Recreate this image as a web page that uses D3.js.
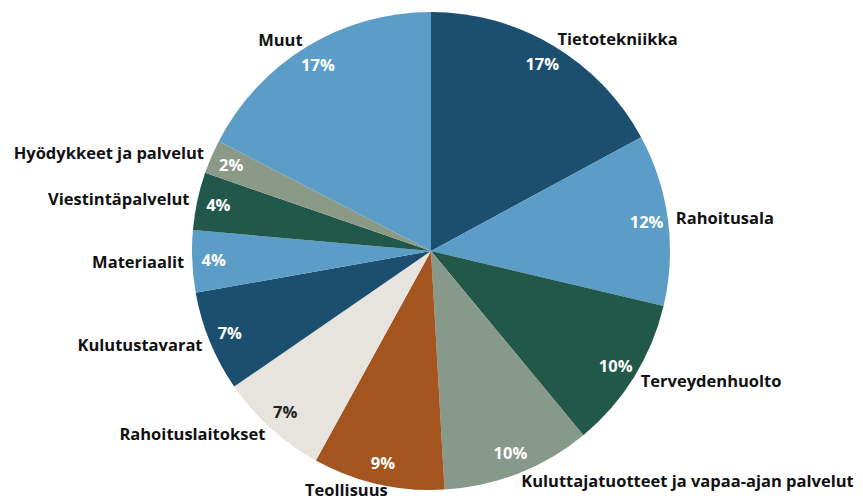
<html>
<head>
<meta charset="utf-8">
<title>Toimialajakauma</title>
<script src="https://d3js.org/d3.v7.min.js"></script>
<style>
  body { margin: 0; background: #fff; }
  text { font-family: "Open Sans", Lato, sans-serif; font-weight: 700; }
</style>
</head>
<body>
<div id="chart"></div>
<script>
var categories = ["Tietotekniikka", "Rahoitusala", "Terveydenhuolto",
  "Kuluttajatuotteet ja vapaa-ajan palvelut", "Teollisuus", "Rahoituslaitokset",
  "Kulutustavarat", "Materiaalit", "Viestintäpalvelut", "Hyödykkeet ja palvelut", "Muut"];
var values = [17.1, 11.6, 10.3, 10.1, 8.9, 7.4, 6.8, 4.2, 3.9, 2.3, 17.4];
var colors = ["#1c4e6f", "#5b9dc7", "#22584a", "#86998a", "#a4541e", "#e7e3dd",
  "#1c4e6f", "#5b9dc7", "#22584a", "#8b9a86", "#5b9dc7"];
var pctColors = ["#fff", "#fff", "#fff", "#fff", "#fff", "#222",
  "#fff", "#fff", "#fff", "#fff", "#fff"];

var width = 863, height = 501;
var cx = 431, cy = 251, R = 239;

var svg = d3.select("#chart").append("svg")
    .attr("width", width)
    .attr("height", height)
  .append("g")
    .attr("transform", "translate(" + cx + "," + cy + ")");

var data = categories.map(function(c, i) { return {name: c, value: values[i], i: i}; });

var pie = d3.pie().sort(null).value(function(d) { return d.value; });
var arcs = pie(data);

var arc = d3.arc().innerRadius(0).outerRadius(R);
var pctArc = d3.arc().innerRadius(R * 0.91).outerRadius(R * 0.91);

svg.selectAll("path.slice").data(arcs).enter().append("path")
    .attr("class", "slice")
    .attr("d", arc)
    .attr("fill", function(d) { return colors[d.data.i]; });

svg.selectAll("text.pct").data(arcs).enter().append("text")
    .attr("class", "pct")
    .attr("transform", function(d) { return "translate(" + pctArc.centroid(d) + ")"; })
    .attr("text-anchor", "middle")
    .attr("dy", "0.35em")
    .style("font-size", "16.5px")
    .attr("fill", function(d) { return pctColors[d.data.i]; })
    .text(function(d) { return Math.round(d.data.value) + "%"; });

var labelR = R + 8;
function mid(d) { return (d.startAngle + d.endAngle) / 2; }
function isBottom(d) { var a = mid(d); return a > Math.PI * 1.05 && a < Math.PI * 1.12; }

svg.selectAll("text.lab").data(arcs).enter().append("text")
    .attr("class", "lab")
    .attr("x", function(d) {
      var x = labelR * Math.sin(mid(d));
      // bottom label sits a little left of its slice, as in the original
      return isBottom(d) ? x - 30 : x;
    })
    .attr("y", function(d) {
      var y = -labelR * Math.cos(mid(d));
      return isBottom(d) ? Math.min(y, cy - 12) : y;
    })
    .attr("dy", "0.35em")
    .attr("text-anchor", function(d) {
      if (isBottom(d)) return "middle";
      return mid(d) < Math.PI ? "start" : "end";
    })
    .style("font-size", "16.5px")
    .attr("fill", "#111")
    .text(function(d) { return d.data.name; });
</script>
</body>
</html>
